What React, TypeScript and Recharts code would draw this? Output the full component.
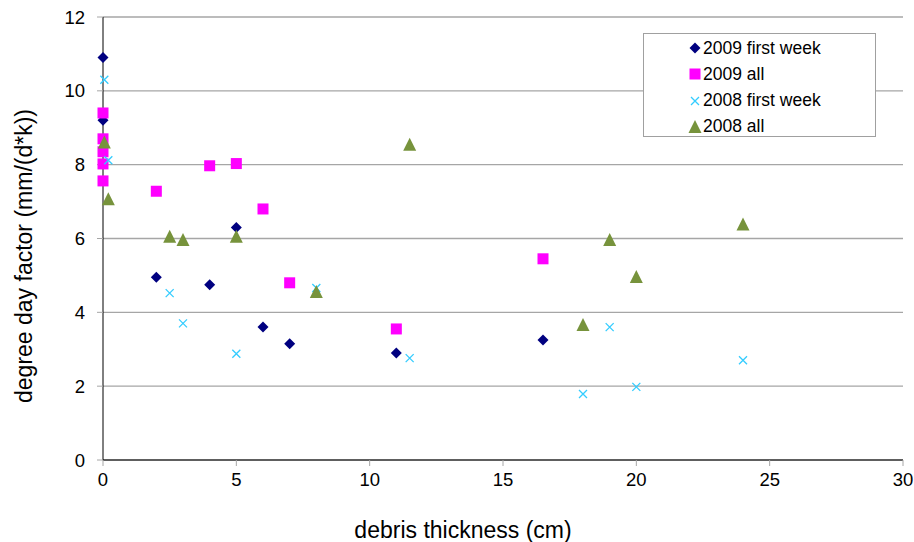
import {
  ScatterChart, Scatter, XAxis, YAxis, CartesianGrid,
} from 'recharts'

// values: [debris thickness cm, degree day factor]
const first2009: [number, number][] = [
  [0, 10.9], [0, 9.2], [2, 4.95], [4, 4.75], [5, 6.3], [6, 3.6], [7, 3.15], [11, 2.9], [16.5, 3.25],
]
const all2009: [number, number][] = [
  [0, 9.4], [0, 8.7], [0, 8.35], [0, 8.02], [0, 7.56], [2, 7.28], [4, 7.97], [5, 8.03],
  [6, 6.8], [7, 4.8], [11, 3.55], [16.5, 5.45],
]
const first2008: [number, number][] = [
  [0.05, 10.3], [0.2, 8.12], [2.5, 4.52], [3, 3.7], [5, 2.88], [8, 4.66], [11.5, 2.76],
  [18, 1.79], [19, 3.6], [20, 1.98], [24, 2.7],
]
const all2008: [number, number][] = [
  [0.05, 8.6], [0.2, 7.06], [2.5, 6.05], [3, 5.96], [5, 6.05], [8, 4.55], [11.5, 8.54],
  [18, 3.66], [19, 5.96], [20, 4.96], [24, 6.38],
]
const xTicks = [0, 5, 10, 15, 20, 25, 30]
const yTicks = [0, 2, 4, 6, 8, 10, 12]

const FONT = 'Arial, "Liberation Sans", Helvetica, sans-serif'
const NAVY = '#000080'
const MAGENTA = '#ff00ff'
const CYAN = '#33ccff'
const OLIVE = '#77933c'
const GRID = '#a6a6a6'

const toPts = (arr: [number, number][]) => arr.map(([x, y]) => ({ x, y }))

type Kind = 'diamond' | 'square' | 'x' | 'triangle'

function marker(kind: Kind, cx: number, cy: number) {
  if (kind === 'diamond') {
    const r = 5.5
    return <path d={`M${cx},${cy - r}L${cx + r},${cy}L${cx},${cy + r}L${cx - r},${cy}Z`} fill={NAVY} />
  }
  if (kind === 'square') {
    return <rect x={cx - 5.5} y={cy - 5.5} width={11} height={11} fill={MAGENTA} />
  }
  if (kind === 'x') {
    const r = 4
    return (
      <path d={`M${cx - r},${cy - r}L${cx + r},${cy + r}M${cx - r},${cy + r}L${cx + r},${cy - r}`}
        stroke={CYAN} strokeWidth={1.3} fill="none" />
    )
  }
  return <path d={`M${cx},${cy - 7}L${cx + 6.5},${cy + 6}L${cx - 6.5},${cy + 6}Z`} fill={OLIVE} />
}

const shapeOf = (kind: Kind) => (p: any) => marker(kind, p.cx, p.cy)

const legendItems: { label: string; kind: Kind }[] = [
  { label: '2009 first week', kind: 'diamond' },
  { label: '2009 all', kind: 'square' },
  { label: '2008 first week', kind: 'x' },
  { label: '2008 all', kind: 'triangle' },
]

function YTitle() {
  const cx = 24
  const cy = 256
  return (
    <text x={cx} y={cy} transform={`rotate(-90, ${cx}, ${cy})`} textAnchor="middle"
      dominantBaseline="central" fontSize={23} fontFamily={FONT} fill="#000">
      degree day factor (mm/(d*k))
    </text>
  )
}

function XTitle() {
  return (
    <text x={463} y={530} textAnchor="middle" dominantBaseline="central"
      fontSize={23} fontFamily={FONT} fill="#000">
      debris thickness (cm)
    </text>
  )
}

export default function App() {
  const tickStyle = { fontSize: 18.5, fill: '#000', fontFamily: FONT }
  return (
    <div style={{ position: 'absolute', left: 0, top: 0, width: 914, height: 542, background: '#fff' }}>
      <ScatterChart width={914} height={542} margin={{ top: 17, right: 11, bottom: 12, left: 0 }}>
        <CartesianGrid vertical={false} stroke={GRID} strokeWidth={1.3} />
        <XAxis type="number" dataKey="x" domain={[0, 30]} ticks={xTicks} height={70}
          axisLine={{ stroke: '#000' }} tickLine={{ stroke: GRID }} tickSize={6} tickMargin={7}
          tick={tickStyle} label={<XTitle />} />
        <YAxis type="number" dataKey="y" domain={[0, 12]} ticks={yTicks} width={103}
          axisLine={{ stroke: '#000' }} tickLine={{ stroke: GRID }} tickSize={6} tickMargin={12}
          tick={tickStyle} label={<YTitle />} />
        <Scatter name="2009 first week" data={toPts(first2009)} shape={shapeOf('diamond')} isAnimationActive={false} />
        <Scatter name="2009 all" data={toPts(all2009)} shape={shapeOf('square')} isAnimationActive={false} />
        <Scatter name="2008 first week" data={toPts(first2008)} shape={shapeOf('x')} isAnimationActive={false} />
        <Scatter name="2008 all" data={toPts(all2008)} shape={shapeOf('triangle')} isAnimationActive={false} />
      </ScatterChart>
      <div style={{
        position: 'absolute', left: 643, top: 33, width: 233, height: 104,
        border: '1px solid #a0a0a0', background: '#fff', boxSizing: 'border-box',
      }}>
        {legendItems.map((it, i) => (
          <div key={it.label} style={{
            position: 'absolute', left: 43, top: 3 + i * 26.3, height: 22,
            display: 'flex', alignItems: 'center', fontFamily: FONT, fontSize: 17.5, whiteSpace: 'nowrap',
          }}>
            <svg width={16} height={16}>
              {marker(it.kind, 8, 8)}
            </svg>
            {it.label}
          </div>
        ))}
      </div>
    </div>
  )
}
